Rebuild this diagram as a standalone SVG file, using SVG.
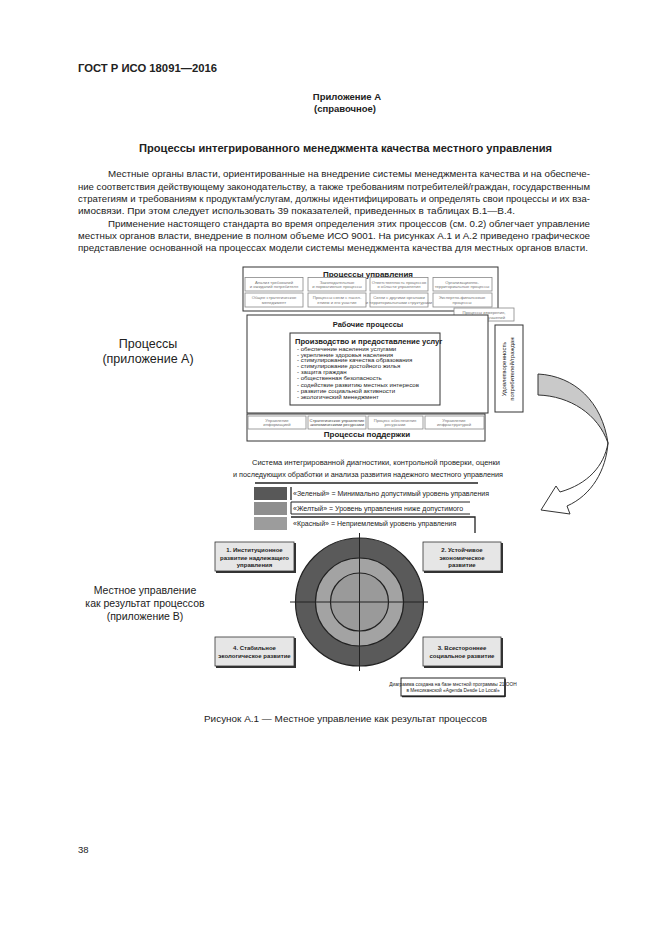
<svg xmlns="http://www.w3.org/2000/svg" width="661" height="935" viewBox="0 0 661 935">
<style>
text{font-family:"Liberation Sans",Arial,sans-serif;fill:#222}
.b{font-weight:bold}
.body{font-size:9.4px}
.tiny{font-size:4.2px;fill:#777}
.box{fill:#fff;stroke:#333;stroke-width:1}
.sb{fill:#fff;stroke:#888;stroke-width:0.8}
.list{font-size:6.1px}
.leg{font-size:7px}
.cb{fill:#e6e6e6;stroke:#333;stroke-width:0.8}
.ct{font-size:6px;font-weight:bold;text-anchor:middle}
</style>
<rect width="661" height="935" fill="#fff"/>
<g id="page-text">
<text x="78" y="72" class="b" font-size="10.5" textLength="139" lengthAdjust="spacingAndGlyphs">ГОСТ Р ИСО 18091—2016</text>
<text x="347" y="100" class="b" font-size="9.5" text-anchor="middle">Приложение А</text>
<text x="345" y="112" class="b" font-size="9.5" text-anchor="middle">(справочное)</text>
<text x="139" y="152" class="b" font-size="10" textLength="413" lengthAdjust="spacingAndGlyphs">Процессы интегрированного менеджмента качества местного управления</text>
<text x="108" y="177" class="body" textLength="482" lengthAdjust="spacingAndGlyphs">Местные органы власти, ориентированные на внедрение системы менеджмента качества и на обеспече-</text>
<text x="78" y="189.5" class="body" textLength="512" lengthAdjust="spacingAndGlyphs">ние соответствия действующему законодательству, а также требованиям потребителей/граждан, государственным</text>
<text x="78" y="202" class="body" textLength="512" lengthAdjust="spacingAndGlyphs">стратегиям и требованиям к продуктам/услугам, должны идентифицировать и определять свои процессы и их вза-</text>
<text x="78" y="214" class="body" textLength="437" lengthAdjust="spacingAndGlyphs">имосвязи. При этом следует использовать 39 показателей, приведенных в таблицах В.1—В.4.</text>
<text x="108" y="226.5" class="body" textLength="482" lengthAdjust="spacingAndGlyphs">Применение настоящего стандарта во время определения этих процессов (см. 0.2) облегчает управление</text>
<text x="78" y="239" class="body" textLength="512" lengthAdjust="spacingAndGlyphs">местных органов власти, внедрение в полном объеме ИСО 9001. На рисунках А.1 и А.2 приведено графическое</text>
<text x="78" y="251" class="body" textLength="510" lengthAdjust="spacingAndGlyphs">представление основанной на процессах модели системы менеджмента качества для местных органов власти.</text>
<text x="148" y="348" font-size="12.5" text-anchor="middle">Процессы</text>
<text x="148" y="363" font-size="12.5" text-anchor="middle">(приложение А)</text>
<text x="145" y="594" font-size="10.5" text-anchor="middle">Местное управление</text>
<text x="145" y="607" font-size="10.5" text-anchor="middle">как результат процессов</text>
<text x="145" y="620" font-size="10.5" text-anchor="middle">(приложение В)</text>
<text x="204" y="722" font-size="9.4" textLength="283" lengthAdjust="spacingAndGlyphs">Рисунок А.1 — Местное управление как результат процессов</text>
<text x="78" y="853" font-size="9.5">38</text>
</g>
<g id="connectors">
<path d="M538,374 C575,376 602,402 608,443 C598,414 570,396 538,395 Z" fill="#c9c9c9" stroke="#333" stroke-width="1"/>
<path d="M608,443 C604,466 588,484 560,492 L556,486 L541,510 L570,514 L567,506 C592,495 606,470 608,443 Z" fill="#fff" stroke="#333" stroke-width="1"/>
</g>
<g id="management">
<rect x="243" y="267" width="255" height="44" class="box" stroke-width="1.6"/>
<text x="368" y="276.5" class="b" font-size="8" text-anchor="middle">Процессы управления</text>
<rect x="245" y="277.5" width="58" height="13.5" class="sb"/>
<rect x="308" y="277.5" width="58" height="13.5" class="sb"/>
<rect x="370" y="277.5" width="58" height="13.5" class="sb"/>
<rect x="433" y="277.5" width="59" height="13.5" class="sb"/>
<rect x="245" y="293" width="58" height="14" class="sb"/>
<rect x="308" y="293" width="58" height="14" class="sb"/>
<rect x="370" y="293" width="58" height="14" class="sb"/>
<rect x="433" y="293" width="59" height="14" class="sb"/>
<g class="tiny" text-anchor="middle">
<text x="274" y="283.5" class="tiny">Анализ требований</text><text x="274" y="288" class="tiny">и ожиданий потребителя</text>
<text x="337" y="283.5" class="tiny">Законодательные</text><text x="337" y="288" class="tiny">и нормативные процессы</text>
<text x="399" y="283.5" class="tiny">Ответственность процессов</text><text x="399" y="288" class="tiny">в области управления</text>
<text x="462" y="283.5" class="tiny">Организационно-</text><text x="462" y="288" class="tiny">территориальные процессы</text>
<text x="274" y="299" class="tiny">Общее стратегическое</text><text x="274" y="303.5" class="tiny">менеджмент</text>
<text x="337" y="299" class="tiny">Процессы связи с насел-</text><text x="337" y="303.5" class="tiny">ением и его участие</text>
<text x="399" y="299" class="tiny">Связи с другими органами</text><text x="399" y="303.5" class="tiny">и территориальными структурами</text>
<text x="462" y="299" class="tiny">Экспертно-финансовые</text><text x="462" y="303.5" class="tiny">процессы</text>
</g>
</g>
<g id="measurement">
<rect x="454" y="308" width="60" height="13" class="sb" stroke="#555"/>
<text x="484" y="313.5" class="tiny" text-anchor="middle">Процессы измерения,</text>
<text x="484" y="318.5" class="tiny" text-anchor="middle">анализа и улучшений</text>
</g>
<g id="working">
<rect x="247" y="315" width="241" height="98" class="box" stroke-width="1.6"/>
<text x="368" y="327" class="b" font-size="7.5" text-anchor="middle">Рабочие процессы</text>
</g>
<g id="services">
<rect x="290" y="333" width="150" height="72" class="box" stroke-width="2"/>
<text x="295" y="344" class="b" font-size="7.6">Производство и предоставление услуг</text>
<text x="297" y="350.5" class="list">- обеспечение населения услугами</text>
<text x="297" y="356.5" class="list">- укрепление здоровья населения</text>
<text x="297" y="362.3" class="list">- стимулирование качества образования</text>
<text x="297" y="368.2" class="list">- стимулирование достойного жилья</text>
<text x="297" y="374" class="list">- защита граждан</text>
<text x="297" y="380" class="list">- общественная безопасность</text>
<text x="297" y="386.5" class="list">- содействие развитию местных интересов</text>
<text x="297" y="392.5" class="list">- развитие социальной активности</text>
<text x="297" y="398.8" class="list">- экологический менеджмент</text>
</g>
<g id="satisfaction">
<rect x="495" y="325" width="28" height="87" class="box" stroke-width="1.4"/>
<text transform="translate(506,369) rotate(-90)" font-size="6" text-anchor="middle">Удовлетворенность</text>
<text transform="translate(514,369) rotate(-90)" font-size="6" text-anchor="middle">потребителей/граждан</text>
</g>
<g id="support">
<rect x="247" y="414" width="238" height="27" class="box" stroke-width="1.6"/>
<rect x="248" y="416" width="58" height="13" class="sb"/>
<rect x="308" y="416" width="58" height="13" class="sb"/>
<rect x="368" y="416" width="55" height="13" class="sb"/>
<rect x="425" y="416" width="59" height="13" class="sb"/>
<text x="277" y="421.5" class="tiny" text-anchor="middle">Управление</text><text x="277" y="426" class="tiny" text-anchor="middle">информацией</text>
<text x="337" y="421.5" class="tiny" text-anchor="middle" style="fill:#444">Стратегическое управление</text><text x="337" y="426" class="tiny" text-anchor="middle" style="fill:#444">экономическими ресурсами</text>
<text x="395" y="421.5" class="tiny" text-anchor="middle">Процесс обеспечения</text><text x="395" y="426" class="tiny" text-anchor="middle">ресурсами</text>
<text x="454" y="421.5" class="tiny" text-anchor="middle">Управление</text><text x="454" y="426" class="tiny" text-anchor="middle">инфраструктурой</text>
<text x="367" y="437" class="b" font-size="8" text-anchor="middle">Процессы поддержки</text>
</g>
<g id="legend">
<text x="376" y="465" font-size="6.8" text-anchor="middle" textLength="248" lengthAdjust="spacingAndGlyphs">Система   интегрированной диагностики, контрольной проверки, оценки</text>
<text x="368" y="476.5" font-size="6.8" text-anchor="middle" textLength="270" lengthAdjust="spacingAndGlyphs">и последующих обработки и анализа развития надежного местного управления</text>
<line x1="255" y1="483" x2="478" y2="483" stroke="#222" stroke-width="1.4"/>
<rect x="254" y="487" width="33" height="13" fill="#585858"/>
<rect x="254" y="502" width="33" height="13" fill="#8e8e8e"/>
<rect x="254" y="517" width="33" height="13" fill="#9c9c9c"/>
<line x1="291" y1="487" x2="291" y2="500" stroke="#222" stroke-width="1.3"/>
<path d="M470,502 H291 V514 H470" fill="none" stroke="#222" stroke-width="1"/>
<path d="M291,517 H475 V533" fill="none" stroke="#222" stroke-width="1.3"/>
<text x="293" y="496" class="leg">«Зеленый» = Минимально допустимый уровень управления</text>
<text x="293" y="511" class="leg">«Желтый» = Уровень управления ниже допустимого</text>
<text x="293" y="526" class="leg">«Красный» = Неприемлемый уровень управления</text>
</g>
<g id="target">
<circle cx="359.5" cy="602" r="64" fill="#5a5a5a" stroke="#222" stroke-width="1.2"/>
<circle cx="359.5" cy="602" r="44" fill="#a3a3a3" stroke="#222" stroke-width="1.2"/>
<circle cx="359.5" cy="602" r="29" fill="#9a9a9a" stroke="#222" stroke-width="1.2"/>
<line x1="359.5" y1="533" x2="359.5" y2="671" stroke="#222" stroke-width="1"/>
<line x1="290" y1="602" x2="428" y2="602" stroke="#222" stroke-width="1"/>
</g>
<g id="goal1">
<rect x="216" y="543" width="80" height="30" fill="#333"/>
<rect x="215" y="542" width="79" height="29" class="cb"/>
<text x="254.5" y="552" class="ct">1. Институционное</text>
<text x="254.5" y="559.5" class="ct">развитие надлежащего</text>
<text x="254.5" y="567" class="ct">управления</text>
</g>
<g id="goal2">
<rect x="424" y="543" width="79" height="30" fill="#333"/>
<rect x="423" y="542" width="78" height="29" class="cb"/>
<text x="462" y="552" class="ct">2. Устойчивое</text>
<text x="462" y="559.5" class="ct">экономическое</text>
<text x="462" y="567" class="ct">развитие</text>
</g>
<g id="goal4">
<rect x="216" y="638" width="80" height="30" fill="#333"/>
<rect x="215" y="637" width="79" height="29" class="cb"/>
<text x="254.5" y="650" class="ct">4. Стабильное</text>
<text x="254.5" y="658" class="ct">экологическое развитие</text>
</g>
<g id="goal3">
<rect x="424" y="638" width="79" height="30" fill="#333"/>
<rect x="423" y="637" width="78" height="29" class="cb"/>
<text x="462" y="650" class="ct">3. Всестороннее</text>
<text x="462" y="658" class="ct">социальное развитие</text>
</g>
<g id="note">
<rect x="401" y="678" width="104" height="18" fill="#fff" stroke="#222" stroke-width="1"/>
<line x1="505" y1="679" x2="505" y2="697" stroke="#222" stroke-width="1.5"/>
<line x1="402" y1="696.5" x2="505" y2="696.5" stroke="#222" stroke-width="1.5"/>
<text x="453" y="685.5" font-size="4.8" text-anchor="middle">Диаграмма создана на базе местной программы 21 ООН</text>
<text x="453" y="691.5" font-size="4.8" text-anchor="middle">в Мексиканской «Agenda Desde Lo Local»</text>
</g>
</svg>
